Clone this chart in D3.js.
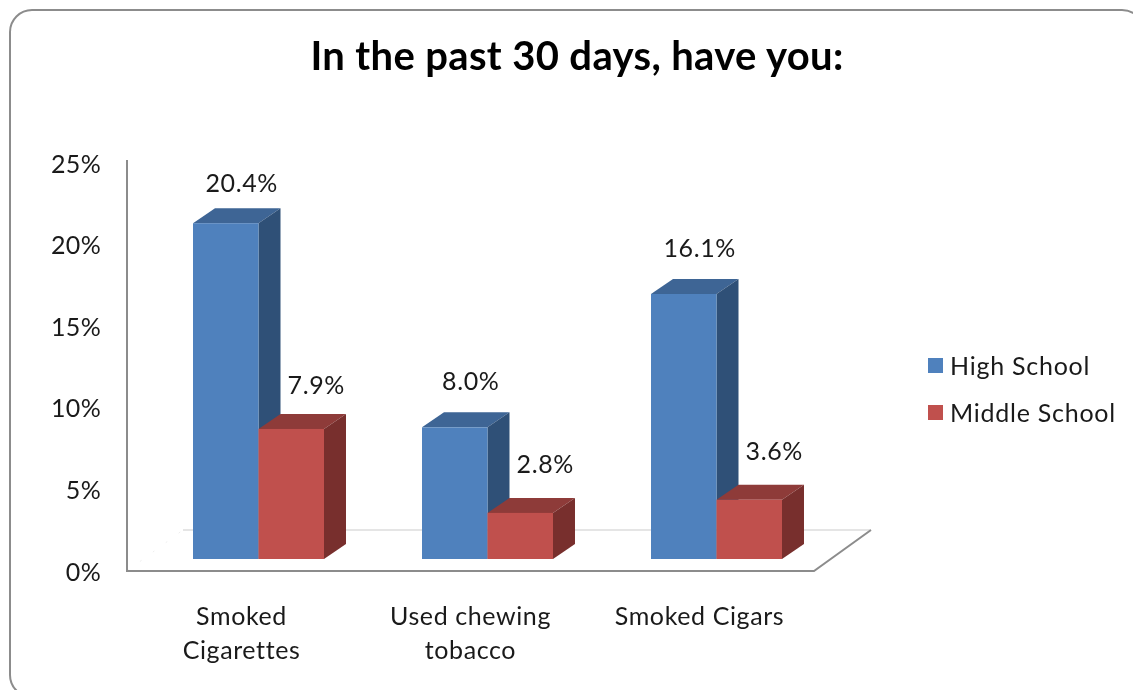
<!DOCTYPE html>
<html>
<head>
<meta charset="utf-8">
<script src="https://cdnjs.cloudflare.com/ajax/libs/d3/7.8.5/d3.min.js"></script>
<style>
  body { margin: 0; background: #fff; overflow: hidden; }
  svg { display: block; filter: blur(0.35px); }
  text { font-family: Lato, "Open Sans", sans-serif; fill: #1a1a1a; letter-spacing: 0.6px; }
</style>
</head>
<body>
<div id="chart"></div>
<script>
const categories = [["Smoked", "Cigarettes"], ["Used chewing", "tobacco"], ["Smoked Cigars"]];
const seriesNames = ["High School", "Middle School"];
const highSchool = [20.4, 8.0, 16.1];
const middleSchool = [7.9, 2.8, 3.6];
const yTicks = [0, 5, 10, 15, 20, 25];

const width = 1133, height = 690;
const depthX = 22, depthY = 15;
const front = [
  { face: "#4f81bd", top: "#3e6595", side: "#2f5077", labelDx: 16, lift: [40, 46, 46] },
  { face: "#c0504d", top: "#8e3b39", side: "#782f2d", labelDx: 25, lift: [44, 49, 49] }
];

const svg = d3.select("#chart").append("svg")
  .attr("width", width)
  .attr("height", height);

// outer frame, right and bottom edges run off the picture
svg.append("rect")
  .attr("x", 10).attr("y", 10)
  .attr("width", 1134).attr("height", 687)
  .attr("rx", 22)
  .attr("fill", "none")
  .attr("stroke", "#8c8c8c")
  .attr("stroke-width", 2);

svg.append("text")
  .attr("x", 577).attr("y", 70)
  .attr("text-anchor", "middle")
  .style("font-size", "40px")
  .style("font-weight", 700)
  .style("letter-spacing", "0.35px")
  .style("fill", "#000")
  .text("In the past 30 days, have you:");

// the axis runs along the front of the floor, the bars stand further back
const xAxisScale = d3.scaleBand().domain(d3.range(categories.length)).range([127, 814]);
const xBars = d3.scaleBand().domain(d3.range(categories.length)).range([144, 831]).paddingInner(0.4280).paddingOuter(0.214);
const xSeries = d3.scaleBand().domain(d3.range(seriesNames.length)).range([0, xBars.bandwidth()]);
const yAxisScale = d3.scaleLinear().domain([0, 25]).range([572, 164]);
const yBars = d3.scaleLinear().domain([0, 25]).range([559, 147.5]);

// floor
svg.append("path")
  .attr("d", d3.line()([[183, 530], [871, 530]]))
  .attr("stroke", "#dcdcdc").attr("stroke-width", 1.5).attr("fill", "none");
svg.append("path")
  .attr("d", d3.line()([[127, 571], [183, 530]]))
  .attr("stroke", "#eeeeee").attr("stroke-dasharray", "2 14").attr("fill", "none");
svg.append("path")
  .attr("d", d3.line()([[127, 160], [127, 571], [814, 571], [871, 530]]))
  .attr("stroke", "#8c8c8c").attr("stroke-width", 2).attr("fill", "none");

const yAxis = svg.append("g")
  .attr("transform", "translate(127,0)")
  .call(d3.axisLeft(yAxisScale).tickValues(yTicks).tickSize(0).tickPadding(26).tickFormat(d => d + "%"));
yAxis.select(".domain").remove();
yAxis.selectAll("text").style("font-size", "25px").style("letter-spacing", "0.3px");

const xAxis = svg.append("g")
  .attr("transform", "translate(0,571)")
  .call(d3.axisBottom(xAxisScale).tickSize(0).tickFormat(""));
xAxis.select(".domain").remove();
xAxis.selectAll(".tick text").each(function(d) {
  const label = d3.select(this)
    .attr("y", 54).attr("dy", null)
    .style("font-size", "25px");
  categories[d].forEach((line, i) => {
    label.append("tspan")
      .attr("x", 0)
      .attr("dy", i ? 34 : 0)
      .text(line);
  });
});

[highSchool, middleSchool].forEach((values, s) => {
  const style = front[s];
  const bar = svg.append("g").selectAll("g")
    .data(values)
    .join("g");

  const x0 = (d, i) => xBars(i) + xSeries(s);
  const x1 = (d, i) => x0(d, i) + xSeries.bandwidth();

  bar.append("path")
    .attr("fill", style.top)
    .attr("d", (d, i) => d3.line()([
      [x0(d, i), yBars(d)], [x1(d, i), yBars(d)],
      [x1(d, i) + depthX, yBars(d) - depthY], [x0(d, i) + depthX, yBars(d) - depthY]
    ]) + "Z");
  bar.append("path")
    .attr("fill", style.side)
    .attr("d", (d, i) => d3.line()([
      [x1(d, i), yBars(d)], [x1(d, i) + depthX, yBars(d) - depthY],
      [x1(d, i) + depthX, yBars(0) - depthY], [x1(d, i), yBars(0)]
    ]) + "Z");
  bar.append("rect")
    .attr("fill", style.face)
    .attr("x", x0)
    .attr("y", d => yBars(d))
    .attr("width", xSeries.bandwidth())
    .attr("height", d => yBars(0) - yBars(d));
});

// value labels go on last so no bar covers them
[highSchool, middleSchool].forEach((values, s) => {
  svg.append("g").selectAll("text")
    .data(values)
    .join("text")
    .attr("x", (d, i) => xBars(i) + xSeries(s) + xSeries.bandwidth() / 2 + front[s].labelDx)
    .attr("y", (d, i) => yBars(d) - front[s].lift[i] + 9)
    .attr("text-anchor", "middle")
    .style("font-size", "25px")
    .text(d => d.toFixed(1) + "%");
});

// legend
const legendY = d3.scalePoint().domain(seriesNames).range([366, 413]);
const legend = svg.append("g").selectAll("g")
  .data(seriesNames)
  .join("g")
  .attr("transform", d => `translate(928,${legendY(d)})`);
legend.append("rect")
  .attr("y", -8)
  .attr("width", 15).attr("height", 15)
  .attr("fill", (d, i) => front[i].face);
legend.append("text")
  .attr("x", 22).attr("y", 9)
  .style("font-size", "25px")
  .style("letter-spacing", "0.75px")
  .text(d => d);
</script>
</body>
</html>
